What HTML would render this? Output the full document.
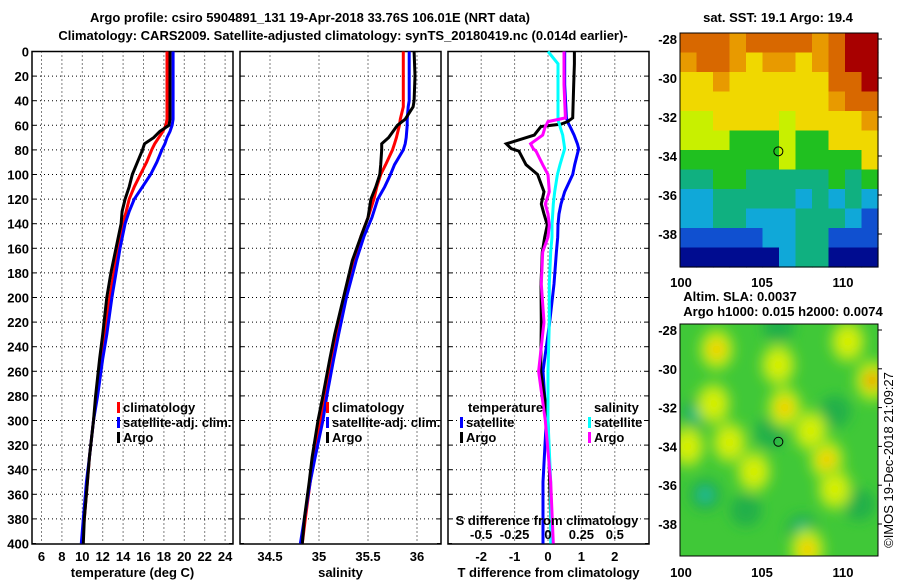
<!DOCTYPE html>
<html><head><meta charset="utf-8"><style>
html,body{margin:0;padding:0;background:#fff;}
svg{display:block;font-family:"Liberation Sans",Arial,sans-serif;}
text{font-weight:bold;font-size:13px;fill:#000;}
</style></head><body>
<svg id="chart" width="900" height="580" viewBox="0 0 900 580">
<defs>
<filter id="blur" x="-20%" y="-20%" width="140%" height="140%"><feGaussianBlur stdDeviation="6"/></filter>
<clipPath id="clipSLA"><rect x="680" y="324" width="198" height="232"/></clipPath>
</defs>
<text x="310" y="22" text-anchor="middle" font-size="14">Argo profile: csiro 5904891_131 19-Apr-2018 33.76S 106.01E (NRT data)</text>
<text x="343" y="40" text-anchor="middle" font-size="14">Climatology: CARS2009. Satellite-adjusted climatology: synTS_20180419.nc (0.014d earlier)-</text>
<g id="g"></g>
<text x="778" y="22" text-anchor="middle">sat. SST: 19.1 Argo: 19.4</text>
<text x="740" y="301" text-anchor="middle">Altim. SLA: 0.0037</text>
<text x="783" y="316" text-anchor="middle">Argo h1000: 0.015 h2000: 0.0074</text>
<text transform="translate(893,460) rotate(-90)" text-anchor="middle" style="font-weight:normal">©IMOS 19-Dec-2018 21:09:27</text>
</svg>
<script>
// ---- data ----
const depthTicks=[0,20,40,60,80,100,120,140,160,180,200,220,240,260,280,300,320,340,360,380,400];
const tempTicks=[6,8,10,12,14,16,18,20,22,24];
const salTicks=[34.5,35,35.5,36];
const tdiffTicks=[-2,-1,0,1,2];
const sdiffTicks=[-0.5,-0.25,0,0.25,0.5];
const sdiffTickLabels=["-0.5","-0.25","0","0.25","0.5"];

const tDepth=[0,20,40,55,60,65,70,75,80,90,100,110,120,130,140,160,180,200,230,250,280,300,330,350,380,400];
const tClim=[18.3,18.3,18.3,18.3,18.2,17.9,17.5,17.1,16.8,16.3,15.7,15.1,14.6,14.3,14.0,13.5,13.1,12.7,12.2,11.9,11.4,11.1,10.7,10.5,10.2,10.0];
const tSat =[18.9,18.9,18.9,18.9,18.8,18.6,18.3,18.1,17.8,17.3,16.7,15.9,15.1,14.6,14.2,13.7,13.3,12.9,12.4,12.0,11.5,11.1,10.7,10.4,10.1,9.9];
const tArgo=[18.6,18.6,18.6,18.6,18.5,17.6,17.0,16.1,15.9,15.4,14.9,14.6,14.2,13.9,13.8,13.3,12.8,12.4,12.0,11.7,11.3,11.1,10.7,10.5,10.2,10.1];

const sDepth=[0,20,40,45,55,60,70,75,80,92,100,110,120,135,150,170,200,230,250,280,300,330,350,380,400];
const sClim=[35.86,35.86,35.86,35.86,35.83,35.82,35.79,35.77,35.75,35.68,35.63,35.59,35.56,35.50,35.43,35.36,35.26,35.18,35.13,35.06,35.02,34.95,34.91,34.86,34.83];
const sSat =[35.92,35.92,35.92,35.91,35.90,35.90,35.89,35.88,35.86,35.77,35.73,35.67,35.60,35.54,35.46,35.38,35.28,35.20,35.15,35.08,35.04,34.96,34.91,34.85,34.81];
const sArgo=[35.97,35.98,35.97,35.96,35.88,35.80,35.71,35.64,35.64,35.63,35.62,35.58,35.53,35.50,35.43,35.34,35.25,35.16,35.11,35.04,34.99,34.93,34.90,34.85,34.83];

const dDepth=[0,10,27,54,57,59,61,68,75,79,81,92,100,114,124,132,141,151,163,189,220,260,300,350,400];
const dTSat =[0.5,0.5,0.5,0.55,0.59,0.62,0.66,0.78,0.88,0.92,0.9,0.8,0.74,0.5,0.39,0.33,0.3,0.29,0.25,0.18,0.05,-0.15,-0.05,-0.15,-0.15];
const dTArgo=[0.79,0.79,0.77,0.74,0.59,0.39,-0.21,-0.41,-1.25,-1.1,-0.87,-0.66,-0.31,-0.12,-0.2,-0.12,-0.02,-0.1,-0.17,-0.21,-0.2,-0.22,0.0,0.05,0.1];
const dSSat =[0.0,0.075,0.075,0.075,0.078,0.085,0.09,0.11,0.12,0.125,0.12,0.09,0.07,0.05,0.04,0.035,0.03,0.03,0.02,0.01,0.01,0.0,0.0,0.02,0.02];
const dSArgo=[0.12,0.12,0.12,0.13,0.0,-0.01,-0.02,-0.04,-0.13,-0.11,-0.09,-0.04,0.0,0.01,-0.02,0.0,0.01,0.0,-0.04,-0.05,-0.03,-0.07,-0.02,0.02,0.04];

const sstColors={R:"#a80000",O:"#d86800",o:"#e89a00",Y:"#f0d800",y:"#c8f000",G:"#20c020",g:"#10b080",c:"#10a8d8",b:"#1050d0",n:"#000c90"};
const sstRows=["OOOoOOOOoORR","oOOoYooYoORR","YYoYYYYYYOOR","YYYYYYYYYoOO","yyYYYYyYYYYo","yyyGGGyGGYYY","GGGGGGyGGGGY","ggGGgggggGgG","ccgggggcgcgc","ccggcccgggcb","bbbbbccggbbb","nnnnnncggnnn"];
const slaBlobLon=[102.2,102.0,106.4,106.0,109.0,108.0,111.8,110.3,100.4,104.5,107.8,103.0,109.5];
const slaBlobLat=[-29.0,-31.8,-32.0,-29.8,-34.7,-33.2,-30.6,-28.6,-34.0,-35.3,-39.3,-33.8,-36.2];
const slaBlobVal=[0.9,0.6,0.8,0.6,0.95,0.6,1.0,0.6,0.6,0.5,0.8,0.5,0.5];
const slaLowLon=[101.5,107.5,101.0,106.0,104.0,109.5,105.5,111.0];
const slaLowLat=[-36.5,-38.3,-32.3,-27.8,-37.3,-32.2,-33.3,-37.0];

const markLon=106.01, markLat=-33.76;
const latTicks=[-28,-30,-32,-34,-36,-38];
const lonTicks=[100,105,110];

// ---- geometry ----
const Y0=51.5, KY=1.23, BOT=544;
const yD=d=>Y0+d*KY;
const P1={l:32,r:233}, P2={l:240,r:441}, P3={l:448,r:649};
const xT=t=>41.5+(t-6)*10.2;
const xS=s=>319+(s-35)*98;
const xdT=t=>548+t*33.4;
const xdS=s=>548+s*133.6;
const lonX=lo=>681+(lo-100)*16.2;
const latY1=la=>39+(-28-la)*19.5;
const latY2=la=>330+(-28-la)*19.4;

const NS="http://www.w3.org/2000/svg";
const G=document.getElementById('g');
function mk(tag,attrs,parent){const e=document.createElementNS(NS,tag);for(const k in attrs)e.setAttribute(k,attrs[k]);(parent||G).appendChild(e);return e;}
function txt(x,y,s,anchor,parent){const t=mk('text',{x:x,y:y,'text-anchor':anchor||'middle'},parent);t.textContent=s;return t;}

function panel(P,name,xticks,xf,labels,xlabel){
  const g=mk('g',{});
  
  
  xticks.forEach((v,i)=>{const x=xf(v);
    const l=mk('line',{x1:x,x2:x,y1:Y0,y2:BOT,stroke:'#000','stroke-dasharray':'1,3','stroke-width':1},g);
    
    
    if(labels){const t=txt(x,561,labels[i],'middle',g);
      
      }
  });
  depthTicks.forEach(d=>{const y=yD(d);
    if(d>0&&d<400){const l=mk('line',{x1:P.l,x2:P.r,y1:y,y2:y,stroke:'#000','stroke-dasharray':'1,3','stroke-width':1},g);
    
    }
    mk('line',{x1:P.l,x2:P.l+4,y1:y,y2:y,stroke:'#000'},g);
    mk('line',{x1:P.r-4,x2:P.r,y1:y,y2:y,stroke:'#000'},g);
  });
  const b=mk('rect',{x:P.l,y:Y0,width:P.r-P.l,height:BOT-Y0,fill:'none',stroke:'#000','stroke-width':1.5},g);
  
  
  const xl=txt((P.l+P.r)/2,577,xlabel,'middle',g);
  
  
  return g;
}
function line(xs,ds,xf,color,name,w){
  const pts=ds.map((d,i)=>xf(xs[i]).toFixed(1)+','+yD(d).toFixed(1)).join(' ');
  const p=mk('polyline',{points:pts,fill:'none',stroke:color,'stroke-width':w||3,'stroke-linejoin':'miter'});
  
  
}
function legend(x,y,color,label,name){
  const r=mk('rect',{x:x,y:y-10,width:3,height:11,fill:color});
  
  
  const t=txt(x+6,y,label,'start');
  
  
}

depthTicks.forEach(d=>{const t=txt(29,yD(d)+5,String(d),'end');
  
  });

panel(P1,'temperature-panel',tempTicks,xT,tempTicks.map(String),'temperature (deg C)');
panel(P2,'salinity-panel',salTicks,xS,salTicks.map(String),'salinity');
panel(P3,'difference-panel',tdiffTicks,xdT,tdiffTicks.map(String),'T difference from climatology');

line(tClim,tDepth,xT,'#f00','temp-climatology-line');
line(tSat,tDepth,xT,'#00f','temp-satellite-line');
line(tArgo,tDepth,xT,'#000','temp-argo-line');
line(sClim,sDepth,xS,'#f00','sal-climatology-line');
line(sSat,sDepth,xS,'#00f','sal-satellite-line');
line(sArgo,sDepth,xS,'#000','sal-argo-line');
line(dTSat,dDepth,xdT,'#00f','tdiff-satellite-line');
line(dTArgo,dDepth,xdT,'#000','tdiff-argo-line');
line(dSSat,dDepth,xdS,'#0ff','sdiff-satellite-line');
line(dSArgo,dDepth,xdS,'#f0f','sdiff-argo-line');

legend(117,412,'#f00','climatology','legend-climatology');
legend(117,427,'#00f','satellite-adj. clim.','legend-satellite-adj');
legend(117,442,'#000','Argo','legend-argo');
legend(326,412,'#f00','climatology','legend-sal-climatology');
legend(326,427,'#00f','satellite-adj. clim.','legend-sal-satellite-adj');
legend(326,442,'#000','Argo','legend-sal-argo');
let t=txt(468,412,'temperature','start');


legend(460,427,'#00f','satellite','legend-tdiff-satellite');
legend(460,442,'#000','Argo','legend-tdiff-argo');
t=txt(594,412,'salinity','start');


legend(588,427,'#0ff','satellite','legend-sdiff-satellite');
legend(588,442,'#f0f','Argo','legend-sdiff-argo');
t=txt(547,525,'S difference from climatology','middle');


sdiffTicks.forEach((v,i)=>{const s=txt(xdS(v),539,sdiffTickLabels[i],'middle');
  
  });

// ---- SST map ----
const mg=mk('g',{});


const cw=198/12, ch=234/12;
sstRows.forEach((row,r)=>{[...row].forEach((c,k)=>{
  mk('rect',{x:(680+k*cw).toFixed(1),y:(33+r*ch).toFixed(1),width:(cw+0.6).toFixed(1),height:(ch+0.6).toFixed(1),fill:sstColors[c]},mg);
});});
mk('rect',{x:680,y:33,width:198,height:234,fill:'none',stroke:'#000'},mg);
let c1=mk('circle',{cx:lonX(markLon),cy:latY1(markLat),r:4.5,fill:'none',stroke:'#000','stroke-width':1});



// ---- SLA map ----
const sg=mk('g',{});


mk('rect',{x:680,y:324,width:198,height:232,fill:'#40c838'},sg);
const bg=mk('g',{'clip-path':'url(#clipSLA)'},sg);
const bf=mk('g',{filter:'url(#blur)'},bg);
slaLowLon.forEach((lo,i)=>{mk('ellipse',{cx:lonX(lo),cy:latY2(slaLowLat[i]),rx:16,ry:16,fill:'#22b04a'},bf);});
slaLowLon.slice(0,3).forEach((lo,i)=>{mk('ellipse',{cx:lonX(lo),cy:latY2(slaLowLat[i]),rx:7,ry:7,fill:'#20c0a0'},bf);});
slaBlobLon.forEach((lo,i)=>{const v=slaBlobVal[i];
  mk('ellipse',{cx:lonX(lo),cy:latY2(slaBlobLat[i]),rx:18,ry:22,fill:'#98e020'},bf);
  mk('ellipse',{cx:lonX(lo),cy:latY2(slaBlobLat[i]),rx:11,ry:13,fill:'#d8f000'},bf);
  if(v>0.75)mk('ellipse',{cx:lonX(lo),cy:latY2(slaBlobLat[i]),rx:7,ry:8,fill:v>0.95?'#f09000':'#f8c800'},bf);
});
mk('rect',{x:680,y:324,width:198,height:232,fill:'none',stroke:'#000'},sg);
let c2=mk('circle',{cx:lonX(markLon),cy:latY2(markLat),r:4.5,fill:'none',stroke:'#000','stroke-width':1});



// map axes
latTicks.forEach(la=>{
  [latY1,latY2].forEach(f=>{const y=f(la);
    const l=txt(677,y+5,String(la),'end');
    
    
    mk('line',{x1:878,x2:882,y1:y,y2:y,stroke:'#000'});
  });
});
lonTicks.forEach(lo=>{const x=lonX(lo);
  [287,577].forEach(y=>{const l=txt(x,y,String(lo),'middle');
    
    
    l.setAttribute('font-size','14');});
});
</script>
</body></html>
